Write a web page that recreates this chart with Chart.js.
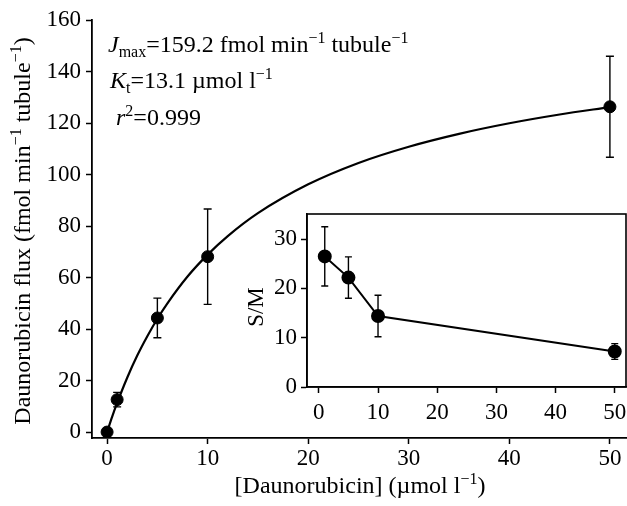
<!DOCTYPE html>
<html lang="en">
<head>
    <meta charset="UTF-8">
    <title>Daunorubicin flux</title>
    <script src="https://cdn.jsdelivr.net/npm/chart.js"></script>
    <style>
        body { margin: 0; background: #fff; overflow: hidden; }
        #wrap { position: relative; width: 627px; height: 506px; }
        #mainChart { position: absolute; left: 0; top: 0; }
        #insetChart { position: absolute; left: 240px; top: 200px; }
    </style>
</head>
<body>
    <div id="wrap">
        <canvas id="mainChart" width="627" height="506"></canvas>
        <canvas id="insetChart" width="387" height="220"></canvas>
    </div>

    <script>
        // measured flux (fmol min-1 tubule-1) against [daunorubicin] (umol l-1)
        const fluxConc = [0, 1, 5, 10, 50];
        const fluxMean = [0, 12.6, 44.3, 68.1, 126.3];
        const fluxErr = [0, 2.8, 7.7, 18.5, 19.6];

        // fitted curve
        const fitConc = [0, 0.5, 1, 2, 3, 4, 5, 6, 8, 10, 12, 15, 20, 25, 30, 35, 40, 45, 50];
        const fitFlux = [0, 5.9, 11.3, 21.1, 29.7, 37.2, 44.0, 50.0, 60.4, 68.9, 76.1, 85.0, 96.2, 104.5, 110.8, 115.8, 119.9, 123.3, 126.2];

        // inset: S/M ratio
        const smConc = [1, 5, 10, 50];
        const smMean = [26.5, 22.2, 14.4, 7.2];
        const smErr = [6.0, 4.2, 4.2, 1.6];

        const mainXTicks = [0, 10, 20, 30, 40, 50];
        const mainYTicks = [0, 20, 40, 60, 80, 100, 120, 140, 160];
        const insetXTicks = [0, 10, 20, 30, 40, 50];
        const insetYTicks = [0, 10, 20, 30];

        const FONT = '"Liberation Serif", "Times New Roman", serif';
        const FS = 24;     // titles and fit text
        const TICK_FS = 23;

        // draws text made of pieces, some raised or lowered
        function drawRich(ctx, parts, x, y, size, align) {
            const small = Math.round(size * 0.68);
            let total = 0;
            parts.forEach(p => {
                const s = (p.sup || p.sub) ? small : size;
                ctx.font = (p.it ? 'italic ' : '') + s + 'px ' + FONT;
                p.w = ctx.measureText(p.t).width;
                total += p.w;
            });
            let cx = align === 'center' ? x - total / 2 : x;
            ctx.textAlign = 'left';
            ctx.textBaseline = 'alphabetic';
            parts.forEach(p => {
                const s = (p.sup || p.sub) ? small : size;
                ctx.font = (p.it ? 'italic ' : '') + s + 'px ' + FONT;
                let dy = 0;
                if (p.sup) dy = -size * 0.38;
                if (p.sub) dy = size * 0.2;
                ctx.fillText(p.t, cx, y + dy);
                cx += p.w;
            });
        }

        function errorBars(chart, xs, ys, es, cap) {
            const ctx = chart.ctx;
            const sx = chart.scales.x, sy = chart.scales.y;
            ctx.save();
            ctx.strokeStyle = '#000';
            ctx.lineWidth = 1.4;
            for (let i = 0; i < xs.length; i++) {
                if (!es[i]) continue;
                const px = sx.getPixelForValue(xs[i]);
                const top = sy.getPixelForValue(ys[i] + es[i]);
                const bot = sy.getPixelForValue(ys[i] - es[i]);
                ctx.beginPath();
                ctx.moveTo(px, top); ctx.lineTo(px, bot);
                ctx.moveTo(px - cap, top); ctx.lineTo(px + cap, top);
                ctx.moveTo(px - cap, bot); ctx.lineTo(px + cap, bot);
                ctx.stroke();
            }
            ctx.restore();
        }

        function fixTicks(list) {
            return function (scale) {
                scale.ticks = list.map(v => ({ value: v }));
            };
        }

        const mainDecor = {
            id: 'mainDecor',
            beforeDatasetsDraw(chart) {
                errorBars(chart, fluxConc, fluxMean, fluxErr, 4);
            },
            afterDraw(chart) {
                const ctx = chart.ctx;
                ctx.save();
                ctx.fillStyle = '#000';
                drawRich(ctx, [
                    { t: 'J', it: true }, { t: 'max', sub: true },
                    { t: '=159.2 fmol min' }, { t: '\u22121', sup: true },
                    { t: ' tubule' }, { t: '\u22121', sup: true }
                ], 108, 52, FS, 'left');
                drawRich(ctx, [
                    { t: 'K', it: true }, { t: 't', sub: true },
                    { t: '=13.1 \u00b5mol l' }, { t: '\u22121', sup: true }
                ], 110, 88, FS, 'left');
                drawRich(ctx, [
                    { t: 'r', it: true }, { t: '2', sup: true },
                    { t: '=0.999' }
                ], 116, 125, FS, 'left');

                drawRich(ctx, [
                    { t: '[Daunorubicin] (\u00b5mol l' }, { t: '\u22121', sup: true }, { t: ')' }
                ], 360, 493, FS, 'center');

                ctx.translate(30, 231);
                ctx.rotate(-Math.PI / 2);
                drawRich(ctx, [
                    { t: 'Daunorubicin flux (fmol min' }, { t: '\u22121', sup: true },
                    { t: ' tubule' }, { t: '\u22121', sup: true }, { t: ')' }
                ], 0, 0, FS, 'center');
                ctx.restore();
            }
        };

        const insetDecor = {
            id: 'insetDecor',
            beforeDatasetsDraw(chart) {
                errorBars(chart, smConc, smMean, smErr, 3.5);
            },
            afterDraw(chart) {
                const ctx = chart.ctx;
                const a = chart.chartArea;
                ctx.save();
                ctx.strokeStyle = '#000';
                ctx.lineWidth = 1.6;
                ctx.strokeRect(a.left, a.top, a.right - a.left, a.bottom - a.top);
                ctx.fillStyle = '#000';
                ctx.translate(23, 107);
                ctx.rotate(-Math.PI / 2);
                drawRich(ctx, [{ t: 'S/M' }], 0, 0, TICK_FS, 'center');
                ctx.restore();
            }
        };

        const tickFont = { family: FONT, size: TICK_FS };

        function noPadX(s, h) {
            s.height = h;
            s.paddingLeft = 0;
            s.paddingRight = 0;
        }
        function noPadY(s, w) {
            s.width = w;
            s.paddingTop = 0;
            s.paddingBottom = 0;
        }

        new Chart(document.getElementById('mainChart'), {
            type: 'scatter',
            data: {
                datasets: [{
                    type: 'line',
                    data: fitConc.map((c, i) => ({ x: c, y: fitFlux[i] })),
                    borderColor: '#000',
                    borderWidth: 2.2,
                    pointRadius: 0,
                    cubicInterpolationMode: 'monotone',
                    fill: false
                }, {
                    data: fluxConc.map((c, i) => ({ x: c, y: fluxMean[i] })),
                    backgroundColor: '#000',
                    borderColor: '#000',
                    pointRadius: 6,
                    showLine: false
                }]
            },
            options: {
                responsive: false,
                animation: false,
                devicePixelRatio: 1,
                layout: { autoPadding: false, padding: { left: 0, top: 20, right: 1, bottom: 0 } },
                plugins: { legend: { display: false }, tooltip: { enabled: false } },
                scales: {
                    x: {
                        type: 'linear', min: -1.5, max: 51.6,
                        afterBuildTicks: fixTicks(mainXTicks),
                        afterFit(s) { noPadX(s, 68); },
                        grid: { drawOnChartArea: false, tickLength: 6, tickColor: '#000', tickWidth: 1.5 },
                        border: { color: '#000', width: 1.8 },
                        ticks: { font: tickFont, color: '#000', padding: 1, maxRotation: 0 }
                    },
                    y: {
                        type: 'linear', min: -2.3, max: 160,
                        afterBuildTicks: fixTicks(mainYTicks),
                        afterFit(s) { noPadY(s, 92); },
                        grid: { drawOnChartArea: false, tickLength: 6, tickColor: '#000', tickWidth: 1.5 },
                        border: { color: '#000', width: 1.8 },
                        ticks: { font: tickFont, color: '#000', padding: 5 }
                    }
                }
            },
            plugins: [mainDecor]
        });

        new Chart(document.getElementById('insetChart'), {
            type: 'line',
            data: {
                datasets: [{
                    data: smConc.map((c, i) => ({ x: c, y: smMean[i] })),
                    borderColor: '#000',
                    backgroundColor: '#000',
                    borderWidth: 2,
                    pointRadius: 6,
                    tension: 0,
                    fill: false
                }]
            },
            options: {
                responsive: false,
                animation: false,
                devicePixelRatio: 1,
                layout: { autoPadding: false, padding: { left: 0, top: 14, right: 1, bottom: 0 } },
                plugins: { legend: { display: false }, tooltip: { enabled: false } },
                scales: {
                    x: {
                        type: 'linear', min: -2, max: 51.9,
                        afterBuildTicks: fixTicks(insetXTicks),
                        afterFit(s) { noPadX(s, 33); },
                        grid: { drawOnChartArea: false, tickLength: 6, tickColor: '#000', tickWidth: 1.5 },
                        border: { color: '#000', width: 1.6 },
                        ticks: { font: tickFont, color: '#000', padding: 6, maxRotation: 0 }
                    },
                    y: {
                        type: 'linear', min: 0, max: 35.1,
                        afterBuildTicks: fixTicks(insetYTicks),
                        afterFit(s) { noPadY(s, 67); },
                        grid: { drawOnChartArea: false, tickLength: 6, tickColor: '#000', tickWidth: 1.5 },
                        border: { color: '#000', width: 1.6 },
                        ticks: { font: tickFont, color: '#000', padding: 4 }
                    }
                }
            },
            plugins: [insetDecor]
        });
    </script>
</body>
</html>
